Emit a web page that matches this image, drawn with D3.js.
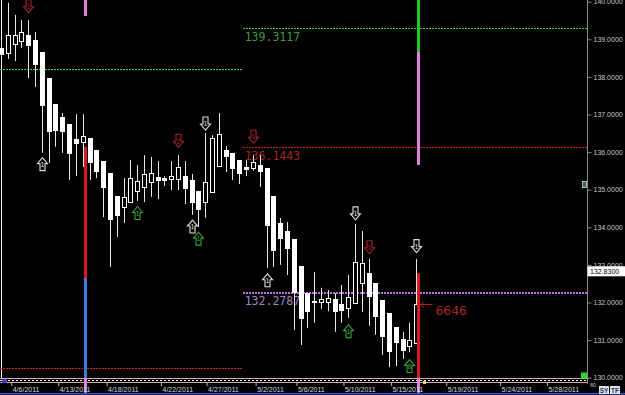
<!DOCTYPE html>
<html>
<head>
<meta charset="utf-8">
<script src="https://cdn.jsdelivr.net/npm/d3@7"></script>
<style>
  body { margin: 0; background: #000; overflow: hidden; }
  svg { display: block; }
</style>
</head>
<body>
<svg id="chart" width="625" height="395"></svg>
<script>
// Bougies : [open, high, low, close]
const candles = [
  [138.77, 138.85, 138.50, 138.58],
  [138.64, 139.97, 138.48, 139.11],
  [138.88, 139.65, 138.42, 139.11],
  [138.96, 139.51, 138.77, 139.19],
  [139.11, 139.51, 137.97, 138.82],
  [138.98, 139.19, 137.73, 138.32],
  [138.66, 138.66, 135.98, 137.23],
  [137.97, 137.97, 135.71, 136.53],
  [137.28, 137.28, 136.14, 136.56],
  [136.93, 137.04, 135.98, 136.53],
  [136.75, 136.75, 135.26, 135.95],
  [136.35, 137.01, 135.36, 136.22],
  [136.27, 137.01, 135.60, 136.43],
  [136.37, 136.37, 135.26, 135.71],
  [136.06, 136.06, 135.31, 135.47],
  [135.76, 135.76, 134.27, 135.05],
  [135.44, 135.44, 132.94, 134.19],
  [134.83, 134.83, 133.74, 134.30],
  [134.54, 135.31, 134.11, 134.81],
  [134.67, 135.79, 134.67, 135.31],
  [134.97, 135.66, 134.70, 135.23],
  [135.07, 135.92, 134.67, 135.42],
  [135.21, 135.87, 134.81, 135.44],
  [135.34, 135.76, 134.75, 135.23],
  [135.31, 135.36, 135.10, 135.23],
  [135.28, 135.76, 134.99, 135.36],
  [135.28, 135.92, 134.99, 135.60],
  [135.36, 135.76, 134.62, 135.02],
  [135.26, 135.42, 134.33, 134.65],
  [134.97, 134.97, 134.01, 134.46],
  [134.67, 136.51, 134.25, 135.20],
  [134.94, 136.45, 134.94, 136.37],
  [135.63, 137.04, 135.63, 136.48],
  [136.06, 136.16, 135.47, 135.87],
  [135.98, 135.98, 135.26, 135.55],
  [135.79, 135.79, 135.15, 135.42],
  [135.60, 135.79, 135.36, 135.52],
  [135.58, 135.92, 135.50, 135.74],
  [135.66, 135.92, 135.07, 135.47],
  [135.58, 135.58, 132.92, 134.03],
  [134.83, 134.83, 132.94, 133.37],
  [134.11, 134.25, 133.00, 133.69],
  [133.90, 134.14, 132.73, 133.42],
  [133.69, 133.69, 131.27, 132.25],
  [132.97, 132.97, 130.87, 131.56],
  [132.25, 132.25, 131.32, 131.75],
  [132.04, 132.81, 131.46, 131.99],
  [132.01, 132.39, 131.83, 132.09],
  [132.01, 132.33, 131.77, 132.12],
  [132.09, 132.25, 131.22, 131.75],
  [131.96, 132.47, 131.46, 131.77],
  [131.85, 132.73, 131.59, 132.15],
  [131.99, 134.09, 131.99, 133.08],
  [132.52, 133.90, 131.75, 133.05],
  [132.78, 133.16, 131.38, 132.15],
  [132.52, 132.52, 131.14, 131.61],
  [132.07, 132.07, 130.60, 131.08],
  [131.72, 131.72, 130.28, 130.68],
  [131.35, 131.35, 130.31, 130.92],
  [131.03, 131.22, 130.50, 130.71],
  [130.84, 131.46, 130.68, 131.00],
  [130.92, 133.16, 130.92, 131.96]
];

// Axe des dates (position en index de bougie)
const dateLabels = ['4/6/2011', '4/13/2011', '4/18/2011', '4/22/2011', '4/27/2011', '5/2/2011',
                    '5/6/2011', '5/10/2011', '5/15/2011', '5/19/2011', '5/24/2011', '5/28/2011'];
const dateIdx = [1.5, 8.4, 15.5, 23.5, 30.2, 37.4, 43.4, 50.3, 57.3, 65.4, 73.3, 80.2];

// Axe des prix
const priceTicks = [130, 131, 132, 133, 134, 135, 136, 137, 138, 139, 140];
const lastPrice = 132.83;

// Niveaux horizontaux
const levelPrice = [138.21, 139.3117, 136.1443, 132.2787, 130.258];
const levelFrom  = [-1, 35.5, 35.5, 35.5, -1];
const levelTo    = [35.5, 86, 86, 86, 35.5];
const levelKind  = ['green', 'green', 'red', 'violet', 'red'];
const levelText  = [null, '139.3117', '136.1443', '132.2787', null];

// Barres verticales (index, segments [haut, bas, type])
const barIdx = [12, 61];
const barSegs = [
  [[140.5, 139.62, 'pink'], [136.1443, 132.65, 'red'], [132.65, 130.0, 'blue'], [130.0, 129.6, 'pink']],
  [[140.5, 138.68, 'green'], [138.68, 135.66, 'pink'], [132.78, 130.0, 'red'], [130.0, 129.6, 'pink']]
];

// Flèches de signal
const arrowIdx   = [4, 6, 20, 26, 28, 29, 30, 37, 39, 51, 52, 54, 60, 61];
const arrowPrice = [139.88, 135.68, 134.38, 136.30, 134.02, 133.70, 136.76, 136.41, 132.59, 131.24, 134.37, 133.47, 130.31, 133.50];
const arrowDir   = ['down', 'up', 'up', 'down', 'up', 'up', 'down', 'down', 'up', 'up', 'down', 'down', 'up', 'down'];
const arrowKind  = ['red', 'white', 'green', 'red', 'white', 'green', 'white', 'red', 'white', 'green', 'white', 'red', 'green', 'white'];
const arrowText  = ['1', '1', '1', '2', '1', '1', '1', '1', '1', '1', '1', '1', '8', '1'];

// Annotation de volume
const volumeText = '6646';

const colors = {
  green: '#3fd03f', red: '#d41c1c', violet: '#c06ae6', pink: '#dc84e0', blue: '#3d7fd8',
  greenBar: '#25c825'
};
const labelColors = { green: '#3c9a3c', red: '#a82424', violet: '#a986c2' };
const arrowColors = { red: '#a52525', white: '#dedede', green: '#35a035' };

const svg = d3.select('#chart');
const plotRight = 587;

const x = d3.scaleLinear().domain([0, 61]).range([1, 416.3]);
const y = d3.scaleLinear().domain([130, 140]).range([377.7, 1.7]);
const cx = i => Math.round(x(i)) + 0.5;

svg.append('rect').attr('width', 625).attr('height', 395).attr('fill', '#000');

// Ligne verticale de début
svg.append('line')
  .attr('x1', 1.5).attr('x2', 1.5).attr('y1', 0).attr('y2', 378)
  .attr('stroke', '#f0f0f0');

// Niveaux horizontaux
const lv = svg.append('g');
levelPrice.forEach((p, k) => {
  const yy = Math.round(y(p)) + 0.5;
  const thick = levelKind[k] === 'violet';
  lv.append('line')
    .attr('x1', Math.max(0, Math.round(x(levelFrom[k])))).attr('x2', Math.min(plotRight, Math.round(x(levelTo[k]))))
    .attr('y1', thick ? yy + 0.5 : yy).attr('y2', thick ? yy + 0.5 : yy)
    .attr('stroke', colors[levelKind[k]])
    .attr('stroke-width', thick ? 2 : 1)
    .attr('stroke-dasharray', '2,1')
    .attr('shape-rendering', 'crispEdges');
  if (levelText[k]) {
    lv.append('text')
      .attr('x', x(levelFrom[k]) + 2).attr('y', yy + 12.5)
      .attr('fill', labelColors[levelKind[k]])
      .attr('font-family', 'DejaVu Sans Mono, monospace')
      .attr('font-size', 11.5)
      .text(levelText[k]);
  }
});

// Bande du bas
const band = svg.append('g').attr('shape-rendering', 'crispEdges');
band.append('line').attr('x1', 0).attr('x2', plotRight).attr('y1', 378.5).attr('y2', 378.5).attr('stroke', '#d4a8a8');
band.append('line').attr('x1', 0).attr('x2', plotRight).attr('y1', 382.5).attr('y2', 382.5).attr('stroke', '#d4a8a8');
band.append('line').attr('x1', 0).attr('x2', plotRight).attr('y1', 380.5).attr('y2', 380.5)
  .attr('stroke', '#ffffff').attr('stroke-dasharray', '2,2');

// Bougies
const cg = svg.append('g');
candles.forEach((c, i) => {
  const [o, h, l, cl] = c;
  const xc = cx(i);
  cg.append('line')
    .attr('x1', xc).attr('x2', xc)
    .attr('y1', y(h)).attr('y2', y(l))
    .attr('stroke', '#e6e6e6');
  const top = y(Math.max(o, cl)), bot = y(Math.min(o, cl));
  if (cl > o) {
    cg.append('rect')
      .attr('x', xc - 2).attr('y', Math.round(top) + 0.5)
      .attr('width', 4).attr('height', Math.max(1, Math.round(bot - top)))
      .attr('fill', '#000').attr('stroke', '#fff');
  } else {
    cg.append('rect')
      .attr('x', xc - 2.5).attr('y', Math.round(top))
      .attr('width', 5).attr('height', Math.max(2, Math.round(bot - top)))
      .attr('fill', '#fff');
  }
});

// Barres verticales
const bg = svg.append('g');
barIdx.forEach((bi, k) => {
  barSegs[k].forEach(s => {
    bg.append('rect')
      .attr('x', cx(bi) + 0.5).attr('y', y(s[0]))
      .attr('width', 3).attr('height', y(s[1]) - y(s[0]))
      .attr('fill', s[2] === 'green' ? colors.greenBar : colors[s[2]]);
  });
});

// Flèches
const ag = svg.append('g');
arrowIdx.forEach((ai, k) => {
  const ax = cx(ai), ay = y(arrowPrice[k]);
  const s = arrowDir[k] === 'up' ? 1 : -1;
  const pts = [[0, -6.5], [5, -0.5], [2.5, -0.5], [2.5, 6.5], [-2.5, 6.5], [-2.5, -0.5], [-5, -0.5]]
    .map(p => [ax + p[0], ay + p[1] * s]);
  const col = arrowColors[arrowKind[k]];
  ag.append('path')
    .attr('d', d3.line()(pts) + 'Z')
    .attr('fill', '#000').attr('stroke', col).attr('stroke-width', 1.1);
  ag.append('text')
    .attr('x', ax).attr('y', ay + 2.8)
    .attr('text-anchor', 'middle')
    .attr('fill', col)
    .attr('font-family', 'DejaVu Sans, sans-serif')
    .attr('font-size', 7)
    .text(arrowText[k]);
});

// Volume de la dernière bougie
const last = candles[candles.length - 1];
const vy = Math.round(y(last[3])) + 0.5;
const vx = cx(candles.length - 1) + 4;
svg.append('path')
  .attr('d', `M${vx + 12},${vy}H${vx}M${vx + 4},${vy - 3}L${vx},${vy}L${vx + 4},${vy + 3}`)
  .attr('fill', 'none').attr('stroke', '#c21a1a');
svg.append('text')
  .attr('x', vx + 15).attr('y', vy + 10)
  .attr('fill', '#a82424')
  .attr('font-family', 'DejaVu Sans Mono, monospace')
  .attr('font-size', 13)
  .text(volumeText);

// Axe des prix
const yAxis = svg.append('g')
  .attr('transform', `translate(${plotRight + 0.5},0)`)
  .call(d3.axisRight(y).tickValues(priceTicks).tickFormat(d3.format('.4f')).tickSize(4).tickPadding(2));
yAxis.select('.domain').attr('stroke', '#8a8a8a').attr('d', 'M0,0V384');
yAxis.selectAll('.tick line').attr('stroke', '#8a8a8a');
yAxis.selectAll('text').attr('fill', '#c8c8c8').attr('font-size', 7)
  .attr('font-family', 'Liberation Sans, Arial, sans-serif');

// Prix courant
const ly = y(lastPrice);
svg.append('rect').attr('x', plotRight + 0.5).attr('y', ly - 5).attr('width', 38).attr('height', 10).attr('fill', '#fff');
svg.append('text').attr('x', plotRight + 3).attr('y', ly + 2.5)
  .attr('fill', '#000').attr('font-size', 7).attr('font-family', 'Liberation Sans, Arial, sans-serif')
  .text(d3.format('.4f')(lastPrice));

// Axe des dates
const xAxis = svg.append('g')
  .attr('transform', 'translate(0,383)')
  .call(d3.axisBottom(x).tickValues(dateIdx).tickFormat((d, i) => dateLabels[i]).tickSize(3).tickPadding(1));
xAxis.select('.domain').remove();
xAxis.selectAll('.tick line').attr('stroke', '#bbb');
xAxis.selectAll('text')
  .attr('text-anchor', 'start').attr('dx', 1)
  .attr('fill', '#d8d8d8').attr('font-size', 7)
  .attr('font-family', 'Liberation Sans, Arial, sans-serif');

// Petits éléments d'interface
svg.append('line').attr('x1', 0).attr('x2', 625).attr('y1', 393.8).attr('y2', 393.8)
  .attr('stroke', '#3553c8').attr('stroke-width', 1.5);
svg.append('rect').attr('x', 2).attr('y', 379).attr('width', 5).attr('height', 4).attr('fill', '#4b3fd0');
svg.append('rect').attr('x', 423).attr('y', 381).attr('width', 3).attr('height', 3).attr('fill', '#e6e05a');
svg.append('rect').attr('x', 581).attr('y', 372.5).attr('width', 6).attr('height', 6).attr('fill', '#22dd22');
svg.append('rect').attr('x', 582.5).attr('y', 181.5).attr('width', 4).attr('height', 6)
  .attr('fill', '#3a6a3a').attr('stroke', '#ddd').attr('stroke-width', 0.8);
svg.append('text').attr('x', 590).attr('y', 386.5).attr('fill', '#bbb').attr('font-size', 5.5)
  .attr('font-family', 'Liberation Sans, Arial, sans-serif').text('80');

['SY', 'TF'].forEach((t, k) => {
  svg.append('rect').attr('x', 599 + k * 11).attr('y', 386).attr('width', 10).attr('height', 8).attr('fill', '#e4e4e4');
  svg.append('text').attr('x', 604 + k * 11).attr('y', 392.5).attr('text-anchor', 'middle')
    .attr('fill', '#22306a').attr('font-size', 6.5).attr('font-weight', 'bold')
    .attr('font-family', 'Liberation Sans, Arial, sans-serif').text(t);
});
</script>
</body>
</html>
